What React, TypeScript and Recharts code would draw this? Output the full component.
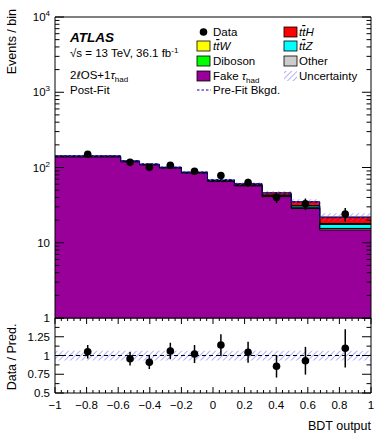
import { ComposedChart, Area, Line, Scatter, ErrorBar, XAxis, YAxis, ReferenceLine, ReferenceArea } from 'recharts'

const FONT = '"Liberation Sans", Arial, Helvetica, sans-serif'
const PLOT_W = 316
const MAIN_H = 301
const RATIO_H = 75

// histogram binning (variable width) and data-point positions
const binEdges = [-1, -0.585, -0.465, -0.34, -0.2, -0.035, 0.135, 0.31, 0.495, 0.675, 1]
const binCenters = [-0.793, -0.525, -0.403, -0.27, -0.117, 0.05, 0.222, 0.402, 0.585, 0.837]

// post-fit background stack, bottom to top
const fakeTau = [138, 119, 108, 98, 84, 65, 57, 41, 28.5, 14.8]
const other = [1.5, 1.0, 0.8, 0.8, 0.7, 0.6, 0.5, 0.4, 0.4, 0.6]
const diboson = [0.8, 0.6, 0.5, 0.4, 0.3, 0.3, 0.3, 0.2, 0.2, 0.1]
const ttZ = [0.5, 0.3, 0.3, 0.4, 0.4, 0.5, 0.6, 1.0, 1.6, 2.0]
const ttW = [0.4, 0.3, 0.3, 0.3, 0.3, 0.4, 0.4, 0.5, 0.5, 0.5]
const ttH = [0.6, 0.5, 0.6, 0.8, 1.0, 1.2, 1.8, 3.0, 3.8, 4.0]
const preFit = [143, 123, 112, 101, 87, 69, 61, 46, 35, 21.5]
const mainUnc = [0.03, 0.03, 0.03, 0.035, 0.04, 0.045, 0.05, 0.06, 0.08, 0.12]

const observed = [150, 117, 100.5, 107, 89, 78, 63, 40, 33, 24]
const observedErr = [12.2, 10.8, 10.0, 10.3, 9.4, 8.8, 7.9, 6.3, 5.7, 4.9]

const ratio = [1.05, 0.957, 0.909, 1.06, 1.02, 1.14, 1.043, 0.856, 0.93, 1.096]
const ratioErr = [0.09, 0.09, 0.09, 0.11, 0.12, 0.145, 0.14, 0.15, 0.185, 0.255]
const ratioUnc = [0.065, 0.065, 0.065, 0.065, 0.065, 0.065, 0.065, 0.065, 0.065, 0.065]

const majorXTicks = [-1, -0.8, -0.6, -0.4, -0.2, 0, 0.2, 0.4, 0.6, 0.8, 1]
const logDecades = [1, 10, 100, 1000]
const ratioYTicks = [0.5, 0.625, 0.75, 0.875, 1, 1.125, 1.25, 1.375, 1.5]
const ratioYLabels = [0.5, 0.75, 1, 1.25]

const xTicks = Array.from({ length: 51 }, (_, i) => Math.round((-1 + i * 0.04) * 100) / 100)
const logTicks = [...logDecades.flatMap((d) => [1, 2, 3, 4, 5, 6, 7, 8, 9].map((m) => m * d)), 10000]

const nBins = binCenters.length
const at = (arr: number[], i: number) => arr[Math.min(i, nBins - 1)]

const histRows = binEdges.map((x, i) => {
  const c1 = at(fakeTau, i)
  const c2 = c1 + at(other, i)
  const c3 = c2 + at(diboson, i)
  const c4 = c3 + at(ttZ, i)
  const c5 = c4 + at(ttW, i)
  const c6 = c5 + at(ttH, i)
  const u = at(mainUnc, i)
  const ru = at(ratioUnc, i)
  return {
    x, c1, c2, c3, c4, c5, c6,
    unc: [c6 * (1 - u), c6 * (1 + u)],
    prefit: at(preFit, i),
    band: [1 - ru, 1 + ru],
  }
})

const dataPoints = binCenters.map((x, i) => ({ x, y: observed[i], err: observedErr[i] }))
const ratioPoints = binCenters.map((x, i) => ({ x, y: ratio[i], err: ratioErr[i] }))

const isMajorX = (v: number) => majorXTicks.some((m) => Math.abs(m - v) < 1e-6)
const fmtX = (v: number) => {
  const s = String(Math.round(v * 10) / 10)
  return s.replace('-', '\u2212')
}

const Dot = (p: any) => <circle cx={p.cx} cy={p.cy} r={3.8} fill="#000" />

const MainYTick = (props: any) => {
  const { x, y, payload } = props
  const lg = Math.log10(payload.value)
  const exp = Math.round(lg)
  const major = Math.abs(lg - exp) < 1e-6
  const len = major ? 9 : 4.5
  const ax = x + 5
  return (
    <g>
      <line x1={ax} x2={ax + len} y1={y} y2={y} stroke="#000" />
      <line x1={ax + PLOT_W} x2={ax + PLOT_W - len} y1={y} y2={y} stroke="#000" />
      {major && (
        <text x={x} y={y} dy={4} textAnchor="end" fontSize={11.5} fontFamily={FONT} fill="#000">
          {exp === 0 ? '1' : '10'}
          {exp >= 2 && (
            <tspan dy={-5} fontSize={8}>
              {exp}
            </tspan>
          )}
        </text>
      )}
    </g>
  )
}

const MainXTick = (props: any) => {
  const { x, y, payload } = props
  const len = isMajorX(payload.value) ? 8 : 4
  return (
    <g>
      <line x1={x} x2={x} y1={y} y2={y - len} stroke="#000" />
      <line x1={x} x2={x} y1={y - MAIN_H} y2={y - MAIN_H + len} stroke="#000" />
    </g>
  )
}

const RatioYTick = (props: any) => {
  const { x, y, payload } = props
  const v = payload.value
  const major = Math.abs(v * 4 - Math.round(v * 4)) < 1e-6
  const len = major ? 9 : 4.5
  const ax = x + 5
  const label = ratioYLabels.includes(v)
  return (
    <g>
      <line x1={ax} x2={ax + len} y1={y} y2={y} stroke="#000" />
      <line x1={ax + PLOT_W} x2={ax + PLOT_W - len} y1={y} y2={y} stroke="#000" />
      {label && (
        <text x={x} y={y} dy={4} textAnchor="end" fontSize={11.5} fontFamily={FONT} fill="#000">
          {String(v)}
        </text>
      )}
    </g>
  )
}

const RatioXTick = (props: any) => {
  const { x, y, payload } = props
  const major = isMajorX(payload.value)
  const len = major ? 6 : 3
  return (
    <g>
      <line x1={x} x2={x} y1={y} y2={y - len} stroke="#000" />
      <line x1={x} x2={x} y1={y - RATIO_H} y2={y - RATIO_H + len} stroke="#000" />
      {major && (
        <text x={x} y={y + 16} textAnchor="middle" fontSize={11.5} fontFamily={FONT} fill="#000">
          {fmtX(payload.value)}
        </text>
      )}
    </g>
  )
}

const Hatch = ({ id }: { id: string }) => (
  <pattern id={id} width="4" height="4" patternUnits="userSpaceOnUse" patternTransform="rotate(45)">
    <line x1="0" y1="0" x2="0" y2="4" stroke="#6262ff" strokeWidth="1" />
  </pattern>
)

const stackLayers = [
  { key: 'c6', color: '#ff0000' },
  { key: 'c5', color: '#ffff00' },
  { key: 'c4', color: '#00ffff' },
  { key: 'c3', color: '#00ff00' },
  { key: 'c2', color: '#cccccc' },
  { key: 'c1', color: '#990099' },
]

// italic "t tbar X" label with an overline on the second t
const TTbar = ({ x, y, last }: { x: number; y: number; last: string }) => (
  <text x={x} y={y} fontFamily={FONT} fontSize={11.5} fill="#000" fontStyle="italic">
    t<tspan style={{ textDecoration: 'overline' }}>t</tspan>
    {last}
  </text>
)

const Overlay = () => {
  const t = { fontFamily: FONT, fontSize: 11.5, fill: '#000' }
  const box = (x: number, y: number, fill: string) => (
    <rect x={x} y={y - 5} width={13} height={10} fill={fill} stroke="#000" strokeWidth={0.8} />
  )
  return (
    <svg width={390} height={440} style={{ position: 'absolute', left: 0, top: 0, pointerEvents: 'none' }}>
      <defs>
        <Hatch id="hatchLeg" />
      </defs>
      <text {...t} fontSize={12.5} transform="translate(16,9) rotate(-90)" textAnchor="end">
        Events / bin
      </text>
      <text {...t} fontSize={12.5} transform="translate(16,357) rotate(-90)" textAnchor="middle">
        Data / Pred.
      </text>
      <text {...t} fontSize={12.5} x={371} y={430} textAnchor="end">
        BDT output
      </text>

      <text {...t} x={70} y={42} fontSize={13.5} fontWeight="bold" fontStyle="italic">
        ATLAS
      </text>
      <text {...t} x={70} y={56.5}>
        √s = 13 TeV, 36.1 fb
        <tspan dy={-4} fontSize={8}>
          -1
        </tspan>
      </text>
      <text {...t} x={70} y={79}>
        2<tspan fontFamily='"DejaVu Sans", sans-serif' fontSize={10.5}>ℓ</tspan>OS+1
        <tspan fontStyle="italic">τ</tspan>
        <tspan dy={3} fontSize={8}>
          had
        </tspan>
      </text>
      <text {...t} x={70} y={93.5}>
        Post-Fit
      </text>

      <circle cx={203.5} cy={32} r={3.8} fill="#000" />
      <text {...t} x={213} y={36}>Data</text>
      {box(197, 46, '#ffff00')}
      <TTbar x={213} y={50} last="W" />
      {box(197, 61, '#00ff00')}
      <text {...t} x={213} y={65}>Diboson</text>
      {box(197, 76, '#990099')}
      <text {...t} x={213} y={80}>
        Fake <tspan fontStyle="italic">τ</tspan>
        <tspan dy={3} fontSize={8}>
          had
        </tspan>
      </text>
      <line x1={197} x2={211} y1={90} y2={90} stroke="#0000cc" strokeDasharray="2.5 2" />
      <text {...t} x={213} y={94}>Pre-Fit Bkgd.</text>

      {box(284, 32, '#ff0000')}
      <TTbar x={299} y={36} last="H" />
      {box(284, 46, '#00ffff')}
      <TTbar x={299} y={50} last="Z" />
      {box(284, 61, '#cccccc')}
      <text {...t} x={299} y={65}>Other</text>
      <rect x={284} y={71} width={13} height={10} fill="url(#hatchLeg)" />
      <text {...t} x={299} y={80}>Uncertainty</text>
    </svg>
  )
}

export default function App() {
  return (
    <div style={{ position: 'absolute', left: 0, top: 0, width: 390, height: 440, background: '#fff', fontFamily: FONT }}>
      <div style={{ position: 'absolute', left: 0, top: 300 }}>
        <ComposedChart width={390} height={140} data={histRows} margin={{ top: 18, right: 19, bottom: 0, left: 0 }}>
          <defs>
            <Hatch id="hatchRatio" />
          </defs>
          <XAxis
            dataKey="x"
            type="number"
            domain={[-1, 1]}
            allowDataOverflow
            ticks={xTicks}
            interval={0}
            height={47}
            tickSize={0}
            tickMargin={0}
            axisLine={false}
            tickLine={false}
            tick={<RatioXTick />}
          />
          <YAxis
            type="number"
            domain={[0.5, 1.5]}
            allowDataOverflow
            ticks={ratioYTicks}
            interval={0}
            width={55}
            tickSize={0}
            tickMargin={5}
            axisLine={false}
            tickLine={false}
            tick={<RatioYTick />}
          />
          <Area type="stepAfter" dataKey="band" fill="url(#hatchRatio)" fillOpacity={1} stroke="none" isAnimationActive={false} />
          <ReferenceLine y={1} stroke="#000" strokeDasharray="4 3" />
          <Scatter data={ratioPoints} dataKey="y" shape={Dot} isAnimationActive={false}>
            <ErrorBar dataKey="err" direction="y" width={0} stroke="#000" strokeWidth={1.5} />
          </Scatter>
          <ReferenceArea x1={-1} x2={1} y1={0.5} y2={1.5} fill="none" stroke="#000" strokeWidth={1} />
        </ComposedChart>
      </div>
      <div style={{ position: 'absolute', left: 0, top: 0 }}>
        <ComposedChart width={390} height={330} data={histRows} margin={{ top: 17, right: 19, bottom: 12, left: 0 }}>
          <defs>
            <Hatch id="hatchMain" />
          </defs>
          <XAxis
            dataKey="x"
            type="number"
            domain={[-1, 1]}
            allowDataOverflow
            ticks={xTicks}
            interval={0}
            height={0}
            tickSize={0}
            tickMargin={0}
            axisLine={false}
            tickLine={false}
            tick={<MainXTick />}
          />
          <YAxis
            type="number"
            scale="log"
            domain={[1, 10000]}
            allowDataOverflow
            ticks={logTicks}
            interval={0}
            width={55}
            tickSize={0}
            tickMargin={5}
            axisLine={false}
            tickLine={false}
            tick={<MainYTick />}
          />
          {stackLayers.map((l) => (
            <Area
              key={l.key}
              type="stepAfter"
              dataKey={l.key}
              baseValue={1}
              fill={l.color}
              fillOpacity={1}
              stroke="#000"
              strokeWidth={1}
              isAnimationActive={false}
            />
          ))}
          <Area type="stepAfter" dataKey="unc" fill="url(#hatchMain)" fillOpacity={1} stroke="none" isAnimationActive={false} />
          <Line type="stepAfter" dataKey="prefit" stroke="#0000cc" strokeWidth={1} strokeDasharray="2.5 2" dot={false} isAnimationActive={false} />
          <Scatter data={dataPoints} dataKey="y" shape={Dot} isAnimationActive={false}>
            <ErrorBar dataKey="err" direction="y" width={0} stroke="#000" strokeWidth={1.5} />
          </Scatter>
          <ReferenceArea x1={-1} x2={1} y1={1} y2={10000} fill="none" stroke="#000" strokeWidth={1} />
        </ComposedChart>
      </div>
      <Overlay />
    </div>
  )
}
